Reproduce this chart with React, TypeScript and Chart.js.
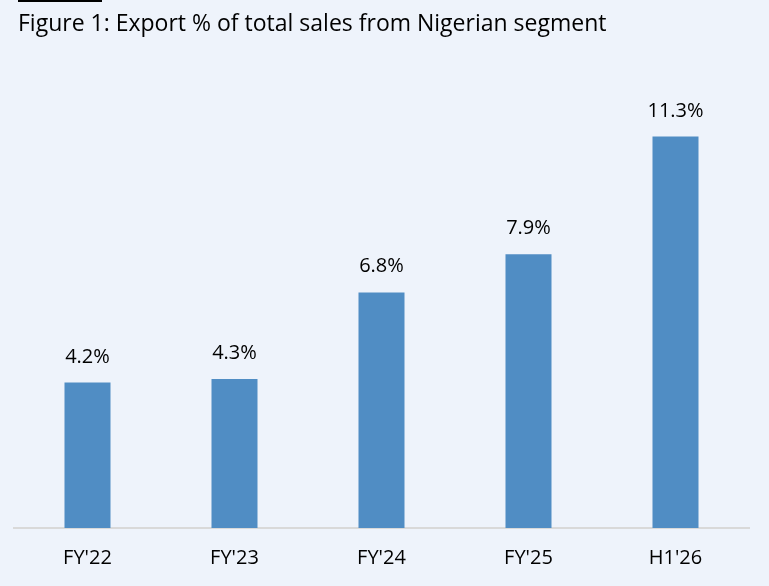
import { useEffect, useRef } from 'react';
import { Chart, registerables, Plugin } from 'chart.js';

Chart.register(...registerables);

const periods = ["FY'22", "FY'23", "FY'24", "FY'25", "H1'26"];
const exportShare = [4.2, 4.3, 6.8, 7.9, 11.3];
const titleText = 'Figure 1: Export % of total sales from Nigerian segment';

const BG = '#EEF3FB';
const BAR = '#508DC4';
const FONT = '"Open Sans", Lato, sans-serif';

// page background, title and the short rule above it
const headingPlugin: Plugin<'bar'> = {
  id: 'heading',
  beforeDraw(chart) {
    const { ctx, width, height } = chart;
    ctx.save();
    ctx.fillStyle = BG;
    ctx.fillRect(0, 0, width, height);
    ctx.fillStyle = '#000';
    ctx.fillRect(18, 0, 84, 2);
    ctx.font = `23px ${FONT}`;
    ctx.textBaseline = 'alphabetic';
    ctx.textAlign = 'left';
    ctx.fillText(titleText, 18, 31);
    ctx.restore();
  },
};

// percentage labels over each bar
const valueLabels: Plugin<'bar'> = {
  id: 'valueLabels',
  afterDatasetsDraw(chart) {
    const { ctx } = chart;
    const meta = chart.getDatasetMeta(0);
    ctx.save();
    ctx.font = `20px ${FONT}`;
    ctx.fillStyle = '#000';
    ctx.textAlign = 'center';
    ctx.textBaseline = 'alphabetic';
    meta.data.forEach((bar, i) => {
      const { x, y } = bar.getProps(['x', 'y'], true) as { x: number; y: number };
      ctx.fillText(exportShare[i].toFixed(1) + '%', x, y - 20);
    });
    ctx.restore();
  },
};

export default function App() {
  const canvasRef = useRef<HTMLCanvasElement>(null);

  useEffect(() => {
    document.body.style.margin = '0';
    document.body.style.background = BG;
    if (!canvasRef.current) return;

    const chart = new Chart(canvasRef.current, {
      type: 'bar',
      data: {
        labels: periods,
        datasets: [{
          data: exportShare,
          backgroundColor: BAR,
          borderWidth: 0,
          categoryPercentage: 1,
          barPercentage: 0.313,
        }],
      },
      options: {
        animation: false,
        responsive: true,
        maintainAspectRatio: false,
        layout: { padding: { top: 43, left: 14, right: 20, bottom: -2 } },
        plugins: {
          legend: { display: false },
          tooltip: { enabled: false },
        },
        scales: {
          x: {
            grid: { display: false, drawTicks: false },
            border: { color: '#D9D9D9', width: 2 },
            ticks: { color: '#000', padding: 18, font: { family: FONT, size: 20 } },
          },
          y: {
            display: false,
            min: 0,
            max: 14,
          },
        },
      },
      plugins: [headingPlugin, valueLabels],
    });

    return () => chart.destroy();
  }, []);

  return (
    <div style={{ width: 769, height: 586, position: 'relative' }}>
      <canvas ref={canvasRef} />
    </div>
  );
}
